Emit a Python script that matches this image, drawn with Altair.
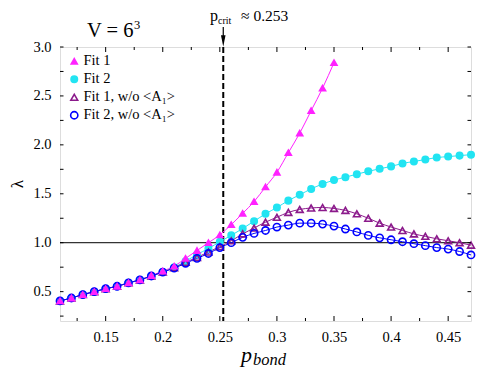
import altair as alt
import pandas as pd

# ---------------- data ----------------
p_bond = [0.11, 0.12, 0.13, 0.14, 0.15, 0.16, 0.17, 0.18, 0.19, 0.20,
          0.21, 0.22, 0.23, 0.24, 0.25, 0.26, 0.27, 0.28, 0.29, 0.30,
          0.31, 0.32, 0.33, 0.34, 0.35, 0.36, 0.37, 0.38, 0.39, 0.40,
          0.41, 0.42, 0.43, 0.44, 0.45, 0.46, 0.47]

fit1 = [0.405, 0.435, 0.47, 0.50, 0.53, 0.555, 0.59, 0.62, 0.665, 0.71,
        0.76, 0.84, 0.92, 1.00, 1.08, 1.185, 1.30, 1.42, 1.57, 1.72,
        1.92, 2.12, 2.35, 2.58, 2.84]

fit2 = [0.405, 0.435, 0.47, 0.50, 0.53, 0.555, 0.59, 0.62, 0.66, 0.70,
        0.75, 0.81, 0.88, 0.94, 1.01, 1.075, 1.145, 1.22, 1.295, 1.36,
        1.43, 1.49, 1.55, 1.60, 1.64, 1.67, 1.70, 1.73, 1.755, 1.78,
        1.81, 1.83, 1.85, 1.87, 1.88, 1.89, 1.90]

fit1_wo = [0.405, 0.435, 0.47, 0.50, 0.53, 0.555, 0.59, 0.62, 0.66, 0.70,
           0.745, 0.80, 0.85, 0.905, 0.96, 1.02, 1.09, 1.15, 1.21, 1.26,
           1.31, 1.34, 1.355, 1.36, 1.35, 1.33, 1.295, 1.25, 1.20, 1.16,
           1.125, 1.09, 1.065, 1.04, 1.02, 1.00, 0.975]

fit2_wo = [0.405, 0.435, 0.47, 0.50, 0.53, 0.555, 0.59, 0.62, 0.66, 0.70,
           0.74, 0.79, 0.84, 0.89, 0.95, 1.00, 1.055, 1.095, 1.125, 1.16,
           1.18, 1.20, 1.20, 1.19, 1.17, 1.14, 1.11, 1.075, 1.05, 1.03,
           1.01, 0.99, 0.97, 0.95, 0.935, 0.91, 0.875]

series_names = ["Fit 1", "Fit 2", "Fit 1, w/o <A\u2081>", "Fit 2, w/o <A\u2081>"]
p_crit = 0.253
ref_level = 1.0

x_major = [0.15, 0.20, 0.25, 0.30, 0.35, 0.40, 0.45]
x_minor = [0.125, 0.175, 0.225, 0.275, 0.325, 0.375, 0.425]
y_major = [0.5, 1.0, 1.5, 2.0, 2.5, 3.0]
y_minor = [0.25, 0.75, 1.25, 1.75, 2.25, 2.75]
y_ticks = y_major + y_minor

# ---------------- build table ----------------
rows = []
draw_order = [(series_names[1], fit2), (series_names[2], fit1_wo),
              (series_names[3], fit2_wo), (series_names[0], fit1)]
for name, vals in draw_order:
    for xv, yv in zip(p_bond, vals):
        rows.append({"series": name, "p": xv, "lam": yv})
df = pd.DataFrame(rows)

W, H = 411, 274
SERIF = "Liberation Serif"

colors = ["#ff22ff", "#22e4f2", "#8b1a8b", "#0000ff"]
fills = ["#ff22ff", "#22e4f2", "transparent", "transparent"]
shapes = ["triangle-up", "circle", "triangle-up", "circle"]
sizes = [36, 52, 62, 70]

xscale = alt.Scale(domain=[0.11, 0.47], nice=False, zero=False)
yscale = alt.Scale(domain=[0.2, 3.0], nice=False, zero=False)

xenc = alt.X("p:Q", scale=xscale,
             axis=alt.Axis(values=x_major, format="~g", ticks=False, domain=False,
                           grid=False, labelFont=SERIF, labelFontSize=14.5,
                           labelPadding=9, labelColor="black", title=None))
yenc = alt.Y("lam:Q", scale=yscale,
             axis=alt.Axis(values=y_major, format=".1f", ticks=False, domain=False,
                           grid=False, labelFont=SERIF, labelFontSize=14.5,
                           labelPadding=9, labelColor="black", title=None))

base = alt.Chart(df)

# one thin fit line per series, coloured directly (no legend-producing channel)
line_layers = []
for name, col in zip(series_names, colors):
    line_layers.append(
        base.transform_filter(alt.datum.series == name).mark_line(
            strokeWidth=1, interpolate="monotone", color=col).encode(x=xenc, y=yenc)
    )

legend = alt.Legend(orient="none", legendX=7, legendY=7, title=None, padding=0,
                    labelFont=SERIF, labelFontSize=14.5, labelColor="black",
                    labelOffset=2, rowPadding=3, symbolStrokeWidth=1.6)

points = base.mark_point(opacity=1, strokeWidth=1.6).encode(
    x=alt.X("p:Q", scale=xscale),
    y=alt.Y("lam:Q", scale=yscale),
    fill=alt.Fill("series:N", scale=alt.Scale(domain=series_names, range=fills), legend=legend),
    stroke=alt.Stroke("series:N", scale=alt.Scale(domain=series_names, range=colors), legend=legend),
    shape=alt.Shape("series:N", scale=alt.Scale(domain=series_names, range=shapes), legend=legend),
    size=alt.Size("series:N", scale=alt.Scale(domain=series_names, range=sizes), legend=legend),
)

# reference lines
hline = alt.Chart(pd.DataFrame({"lam": [ref_level]})).mark_rule(color="black", strokeWidth=1).encode(
    y=alt.Y("lam:Q", scale=yscale), x=alt.value(0), x2=alt.value(W))
vline = alt.Chart(pd.DataFrame({"p": [p_crit]})).mark_rule(
    color="black", strokeWidth=2, strokeDash=[6, 3]).encode(
    x=alt.X("p:Q", scale=xscale), y=alt.value(0), y2=alt.value(H))

# arrow for p_crit
arrow_shaft = alt.Chart(pd.DataFrame({"p": [p_crit]})).mark_rule(color="black", strokeWidth=1.2).encode(
    x=alt.X("p:Q", scale=xscale), y=alt.value(-20), y2=alt.value(-6))
arrow_head = alt.Chart(pd.DataFrame({"p": [p_crit]})).mark_point(
    shape="M-0.4,-1L0.4,-1L0,1Z", filled=True, color="black", opacity=1, size=130).encode(
    x=alt.X("p:Q", scale=xscale), y=alt.value(-6))

# inner ticks
def xticks(vals, length):
    d = pd.DataFrame({"p": vals})
    bot = alt.Chart(d).mark_rule(color="black", strokeWidth=1).encode(
        x=alt.X("p:Q", scale=xscale), y=alt.value(H), y2=alt.value(H - length))
    top = alt.Chart(d).mark_rule(color="black", strokeWidth=1).encode(
        x=alt.X("p:Q", scale=xscale), y=alt.value(0), y2=alt.value(length))
    return bot + top

def yticks(vals, length):
    d = pd.DataFrame({"lam": vals})
    left = alt.Chart(d).mark_rule(color="black", strokeWidth=1).encode(
        y=alt.Y("lam:Q", scale=yscale), x=alt.value(0), x2=alt.value(length))
    right = alt.Chart(d).mark_rule(color="black", strokeWidth=1).encode(
        y=alt.Y("lam:Q", scale=yscale), x=alt.value(W), x2=alt.value(W - length))
    return left + right

ticks = xticks(x_major, 5) + xticks(x_minor, 3) + yticks(y_ticks, 3.5)

# texts
def txt(s, x, y, size, style="normal", align="left", baseline="alphabetic", angle=0):
    kw = dict(text=s, font=SERIF, fontSize=size, fontStyle=style, align=align,
              baseline=baseline, color="black")
    if angle:
        kw["angle"] = angle
    return alt.Chart(pd.DataFrame({"a": [0]})).mark_text(**kw).encode(
        x=alt.value(x), y=alt.value(y))

texts = (
    txt("V = 6", 27, -10, 20.5)
    + txt("3", 74, -18, 12.5)
    + txt("p", 150, -26, 16)
    + txt("crit", 158, -23, 10)
    + txt("\u2248 0.253", 181, -26, 15.5)
    + txt("p", 181, 315, 22, style="italic")
    + txt("bond", 193, 318, 16.5, style="italic")
    + txt("\u03bb", -42, 137, 17, align="center", baseline="middle", angle=270)
)

chart = alt.layer(
    hline, vline, *line_layers, points, ticks, arrow_shaft, arrow_head, texts
).properties(
    width=W, height=H,
    autosize=alt.AutoSizeParams(type="none"),
    padding={"left": 52, "top": 39, "right": 12, "bottom": 47},
).configure_view(stroke="black", strokeWidth=1.6).configure(background="white")

chart.save("out.html", embed_options={"renderer": "svg", "actions": False})
